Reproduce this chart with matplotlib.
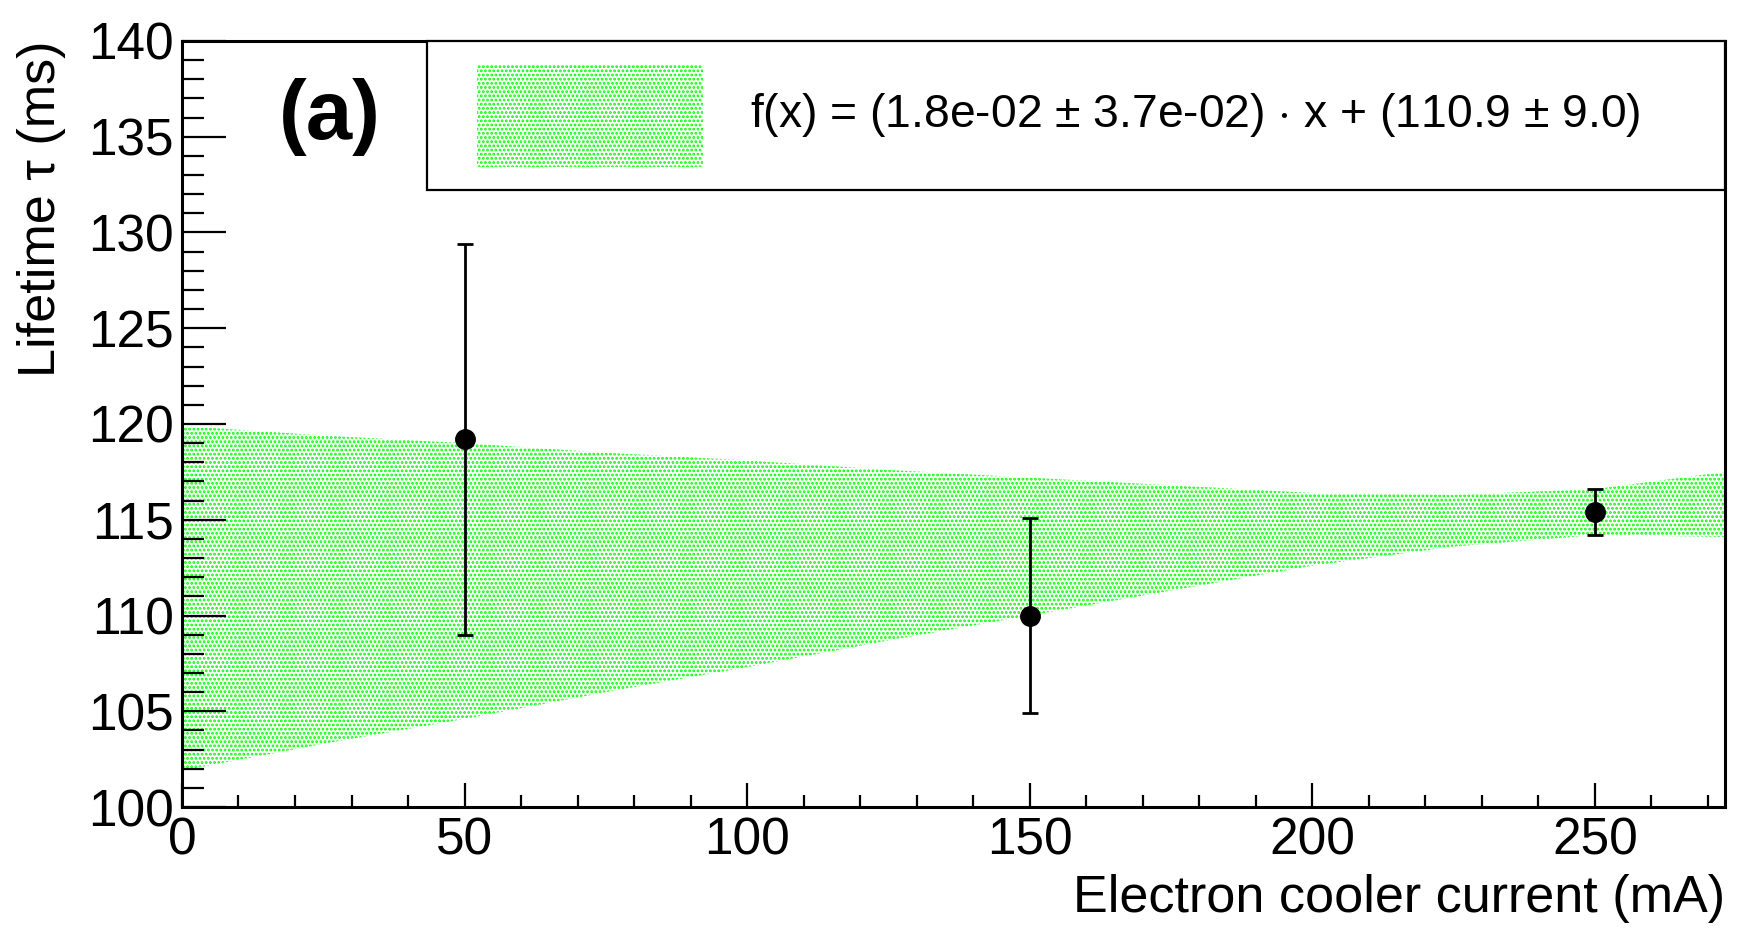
import numpy as np
import matplotlib
matplotlib.use("Agg")
from matplotlib import pyplot as plt
from matplotlib.patches import Rectangle
from matplotlib.ticker import MultipleLocator

plt.rcParams['font.family'] = ['Liberation Sans', 'DejaVu Sans']
plt.rcParams['hatch.color'] = '#00ff00'
plt.rcParams['hatch.linewidth'] = 1.35
plt.rcParams['mathtext.fontset'] = 'custom'
plt.rcParams['mathtext.rm'] = 'Liberation Sans'

# measured points
current = [50, 150, 250]
lifetime = [119.2, 110.0, 115.4]
lifetime_err = [10.2, 5.1, 1.2]

# fit confidence band, edges
band_x = [0, 25, 50, 75, 100, 125, 150, 175, 200, 225, 250, 273]
band_lo = [101.9, 103.3, 104.6, 106.0, 107.3, 108.7, 110.0, 111.3, 112.6, 113.6, 114.2, 114.1]
band_hi = [119.9, 119.4, 119.0, 118.5, 118.1, 117.6, 117.2, 116.8, 116.4, 116.3, 116.6, 117.5]

fit_label = r"f(x) = (1.8e-02 $\pm$ 3.7e-02) $\cdot$ x + (110.9 $\pm$ 9.0)"

fig = plt.figure(figsize=(17.48, 9.46), dpi=100)
ax = fig.add_axes([0.1041, 0.1469, 0.8827, 0.8098])

ax.fill_between(band_x, band_lo, band_hi, facecolor='none', edgecolor='#00ff00',
                hatch='....', linewidth=0)
ax.errorbar(current, lifetime, yerr=lifetime_err, fmt='o', color='black',
            markersize=14, elinewidth=2, capsize=6, capthick=2)

ax.set_xlim(0, 273)
ax.set_ylim(100, 140)
ax.xaxis.set_major_locator(MultipleLocator(50))
ax.xaxis.set_minor_locator(MultipleLocator(10))
ax.yaxis.set_major_locator(MultipleLocator(5))
ax.yaxis.set_minor_locator(MultipleLocator(1))
ax.tick_params(axis='both', which='both', direction='in', top=False, right=False,
               labelsize=37, width=1.6)
ax.tick_params(axis='y', which='major', length=32, pad=6)
ax.tick_params(axis='y', which='minor', length=16)
ax.tick_params(axis='x', which='major', length=17, pad=7)
ax.tick_params(axis='x', which='minor', length=9, pad=7)
for s in ax.spines.values():
    s.set_linewidth(2.2)

ax.set_xlabel('Electron cooler current (mA)', fontsize=37.5, loc='right', labelpad=6)
ax.set_ylabel('Lifetime τ (ms)', fontsize=37.5, loc='top')
ax.yaxis.set_label_coords(-0.075, 1.0)

ax.text(0.0959, 0.9008, '(a)', transform=ax.transAxes, fontsize=60,
        fontweight='bold', ha='center', va='center')

# legend drawn as a box like ROOT's TLegend
ax.add_patch(Rectangle((0.1588, 0.8055), 0.8412, 0.1945, transform=ax.transAxes,
                       facecolor='white', edgecolor='black', linewidth=1.6,
                       clip_on=False, zorder=5))
ax.add_patch(Rectangle((0.1912, 0.8355), 0.1465, 0.1345, transform=ax.transAxes,
                       facecolor='none', edgecolor='#00ff00', hatch='....',
                       linewidth=0, zorder=6))
ax.text(0.3681, 0.9034, fit_label, transform=ax.transAxes, fontsize=33.3,
        ha='left', va='center', zorder=7)

fig.savefig('out.png', dpi=100)
